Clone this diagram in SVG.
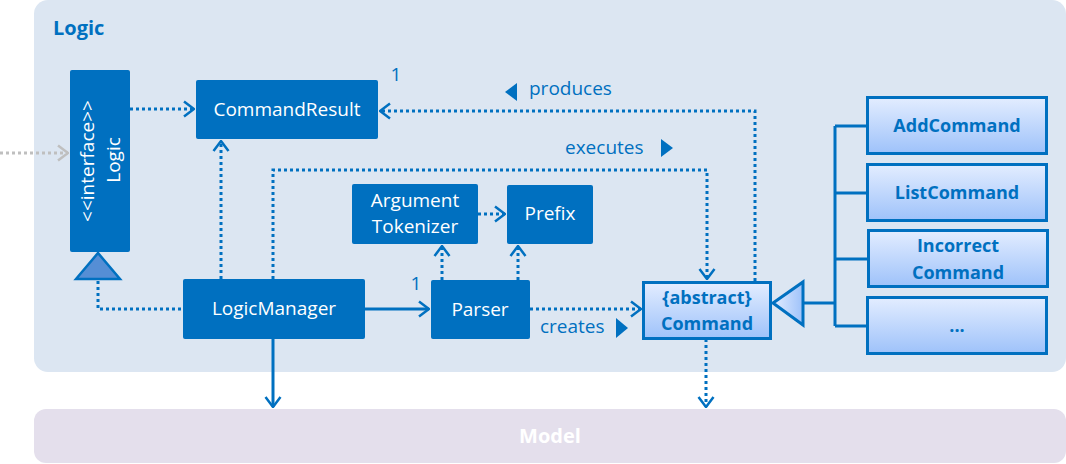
<svg xmlns="http://www.w3.org/2000/svg" width="1066" height="464" viewBox="0 0 1066 464">
<defs>
<linearGradient id="gBlue" x1="0" y1="0" x2="0" y2="1">
<stop offset="0" stop-color="#E3EDFF"/>
<stop offset="1" stop-color="#9EC2FA"/>
</linearGradient>
<linearGradient id="gTri" x1="0" y1="0" x2="1" y2="0">
<stop offset="0" stop-color="#E3EDFF"/>
<stop offset="1" stop-color="#9EC2FA"/>
</linearGradient>
<marker id="open" viewBox="0 0 12 18" refX="11" refY="9" markerWidth="12" markerHeight="18" markerUnits="userSpaceOnUse" orient="auto">
<path d="M1,1.5 L11,9 L1,16.5" fill="none" stroke="#0070C0" stroke-width="2.5"/>
</marker>
<marker id="openGray" viewBox="0 0 12 18" refX="11" refY="9" markerWidth="12" markerHeight="18" markerUnits="userSpaceOnUse" orient="auto">
<path d="M1,1.5 L11,9 L1,16.5" fill="none" stroke="#BFBFBF" stroke-width="2.5"/>
</marker>
</defs>
<style>
.pkg{fill:#DCE6F2}
.model{fill:#E4DFEC}
.box{fill:#0070C0}
.sub{fill:url(#gBlue);stroke:#0070C0;stroke-width:3}
.wt{fill:#FFFFFF;font-family:"Open Sans","Noto Sans",sans-serif;font-size:19px;text-anchor:middle}
.bt{fill:#0070C0;font-family:"Open Sans","Noto Sans",sans-serif;font-size:18px;font-weight:bold;text-anchor:middle}
.lbl{fill:#0070C0;font-family:"Open Sans","Noto Sans",sans-serif;font-size:19px}
.dot{fill:none;stroke:#0070C0;stroke-width:3;stroke-dasharray:3 3}
.sol{fill:none;stroke:#0070C0;stroke-width:3}
.tri{fill:#0070C0}
</style>
<rect class="pkg" x="34" y="0" width="1032" height="372" rx="14"/>
<text x="53" y="35" fill="#0070C0" font-family="'Open Sans','Noto Sans',sans-serif" font-size="20" font-weight="bold">Logic</text>
<g id="model">
<rect class="model" x="34" y="409" width="1032" height="54" rx="12"/>
<text x="550" y="443" fill="#FFFFFF" font-family="'Open Sans','Noto Sans',sans-serif" font-size="20" font-weight="bold" text-anchor="middle">Model</text>
</g>
<g id="connectors">
<path d="M0,153 L68,153" fill="none" stroke="#BFBFBF" stroke-width="3" stroke-dasharray="3 3" marker-end="url(#openGray)"/>
<path class="dot" d="M130,109 L194,109" marker-end="url(#open)"/>
<path class="dot" d="M98,281 L98,309 L183,309"/>
<path class="dot" d="M221,279 L221,141" marker-end="url(#open)"/>
<path class="dot" d="M273,279 L273,170 L707,170 L707,279" marker-end="url(#open)"/>
<path class="dot" d="M755,281 L755,111 L380,111" marker-end="url(#open)"/>
<path class="sol" d="M273,339 L273,407" marker-end="url(#open)"/>
<path class="sol" d="M365,309 L429,309" marker-end="url(#open)"/>
<path class="dot" d="M442,280 L442,246" marker-end="url(#open)"/>
<path class="dot" d="M518,280 L518,246" marker-end="url(#open)"/>
<path class="dot" d="M478,214 L505,214" marker-end="url(#open)"/>
<path class="dot" d="M530,309 L641,309" marker-end="url(#open)"/>
<path class="dot" d="M706,339 L706,407" marker-end="url(#open)"/>
<path class="sol" d="M803,303 L835,303 M835,126 L835,326 M835,126 L867,126 M835,193 L867,193 M835,259 L867,259 M835,326 L867,326"/>
<polygon points="773,303 803,282 803,325" fill="url(#gTri)" stroke="#0070C0" stroke-width="3"/>
<polygon points="76,279 98,253 120,279" fill="#558ED5" stroke="#0070C0" stroke-width="2.5"/>
<text class="lbl" x="396" y="81" text-anchor="middle">1</text>
<text class="lbl" x="416" y="290" text-anchor="middle">1</text>
<polygon class="tri" points="505,92 517,83 517,101"/>
<text class="lbl" x="529" y="95">produces</text>
<text class="lbl" x="565" y="154">executes</text>
<polygon class="tri" points="661,139 673,148 661,157"/>
<text class="lbl" x="540" y="333">creates</text>
<polygon class="tri" points="616,318 628,328 616,338"/>
</g>
<g id="logic">
<rect class="box" x="70" y="70" width="60" height="182" rx="2"/>
<text class="wt" transform="translate(94,161) rotate(-90)">&lt;&lt;interface&gt;&gt;</text>
<text class="wt" transform="translate(120,160) rotate(-90)">Logic</text>
</g>
<g id="commandresult">
<rect class="box" x="196" y="80" width="182" height="59" rx="2"/>
<text class="wt" x="287" y="116">CommandResult</text>
</g>
<g id="logicmanager">
<rect class="box" x="183" y="279" width="182" height="60" rx="2"/>
<text class="wt" x="274" y="315">LogicManager</text>
</g>
<g id="argumenttokenizer">
<rect class="box" x="352" y="184" width="126" height="60" rx="2"/>
<text class="wt" x="415" y="207">Argument</text>
<text class="wt" x="415" y="233">Tokenizer</text>
</g>
<g id="prefix">
<rect class="box" x="507" y="185" width="86" height="59" rx="2"/>
<text class="wt" x="550" y="220">Prefix</text>
</g>
<g id="parser">
<rect class="box" x="431" y="280" width="99" height="59" rx="2"/>
<text class="wt" x="480" y="316">Parser</text>
</g>
<g id="command">
<rect class="sub" x="643.5" y="282.5" width="127" height="56"/>
<text class="bt" x="707" y="304">{abstract}</text>
<text class="bt" x="707" y="330">Command</text>
</g>
<g id="addcommand">
<rect class="sub" x="867.5" y="97.5" width="179" height="56"/>
<text class="bt" x="957" y="132">AddCommand</text>
</g>
<g id="listcommand">
<rect class="sub" x="867.5" y="164.5" width="179" height="56"/>
<text class="bt" x="957" y="199">ListCommand</text>
</g>
<g id="incorrectcommand">
<rect class="sub" x="868.5" y="230.5" width="179" height="56"/>
<text class="bt" x="958" y="252">Incorrect</text>
<text class="bt" x="958" y="279">Command</text>
</g>
<g id="more">
<rect class="sub" x="867.5" y="297.5" width="179" height="56"/>
<text class="bt" x="957" y="332">...</text>
</g>
</svg>
